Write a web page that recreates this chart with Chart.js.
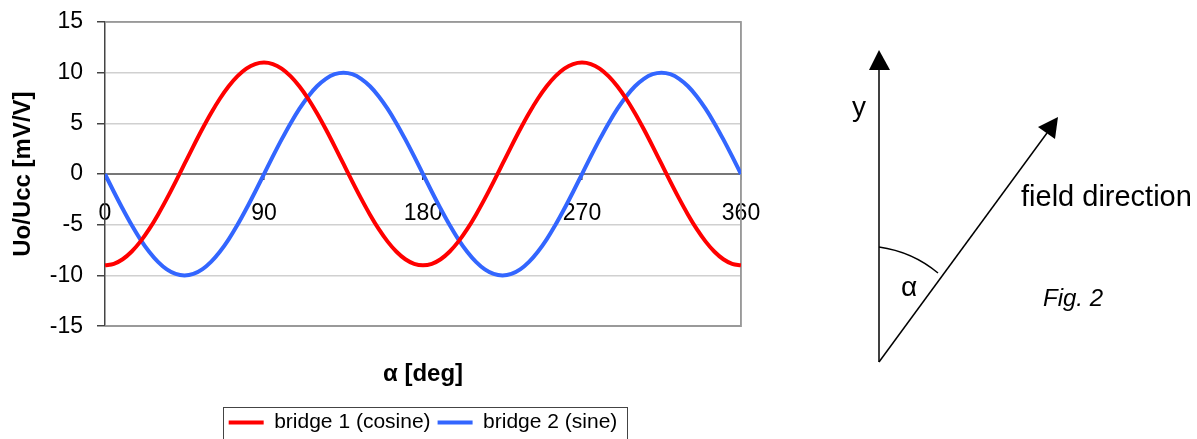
<!DOCTYPE html>
<html>
<head>
<meta charset="utf-8">
<script src="https://cdn.jsdelivr.net/npm/chart.js@4/dist/chart.umd.min.js"></script>
<style>
  html, body { margin: 0; padding: 0; background: #fff; overflow: hidden; width: 1197px; height: 439px; }
  #wrap { position: absolute; left: 0; top: 0; width: 846px; height: 443px; }
  #diagram { position: absolute; left: 0; top: 0; width: 1197px; height: 439px; pointer-events: none; }
  #diagram text { font-family: "Liberation Sans", Arial, sans-serif; fill: #000; }
</style>
</head>
<body>
<div id="wrap"><canvas id="c" width="846" height="443"></canvas></div>
<svg id="diagram" width="1197" height="439" viewBox="0 0 1197 439">
  <line x1="879" y1="362" x2="879" y2="66" stroke="#000" stroke-width="1.5"/>
  <polygon points="879,50 869,70 890,70" fill="#000"/>
  <line x1="879" y1="362" x2="1047" y2="133" stroke="#000" stroke-width="1.5"/>
  <polygon points="1058,117 1038,127 1055,139" fill="#000"/>
  <path d="M879,247 A118,118 0 0 1 938,273" fill="none" stroke="#000" stroke-width="1.5"/>
  <text x="859" y="116" font-size="28" text-anchor="middle">y</text>
  <text x="909" y="296" font-size="28" text-anchor="middle">α</text>
  <text x="1021" y="206" font-size="29">field direction</text>
  <text x="1043" y="306" font-size="24" font-style="italic">Fig. 2</text>
</svg>
<script>
// angle α in degrees
const angles = [0,5,10,15,20,25,30,35,40,45,50,55,60,65,70,75,80,85,90,95,100,105,110,115,120,125,130,135,140,145,150,155,160,165,170,175,180,
  185,190,195,200,205,210,215,220,225,230,235,240,245,250,255,260,265,270,275,280,285,290,295,300,305,310,315,320,325,330,335,340,345,350,355,360];
// bridge 1 (cosine) output, mV/V
const bridge1 = [-9.0,-8.85,-8.4,-7.66,-6.66,-5.43,-4.0,-2.42,-0.74,1.0,2.74,4.42,6.0,7.43,8.66,9.66,10.4,10.85,11.0,10.85,10.4,9.66,8.66,7.43,6.0,4.42,2.74,1.0,-0.74,-2.42,-4.0,-5.43,-6.66,-7.66,-8.4,-8.85,-9.0,
  -8.85,-8.4,-7.66,-6.66,-5.43,-4.0,-2.42,-0.74,1.0,2.74,4.42,6.0,7.43,8.66,9.66,10.4,10.85,11.0,10.85,10.4,9.66,8.66,7.43,6.0,4.42,2.74,1.0,-0.74,-2.42,-4.0,-5.43,-6.66,-7.66,-8.4,-8.85,-9.0];
// bridge 2 (sine) output, mV/V
const bridge2 = [0,-1.74,-3.42,-5.0,-6.43,-7.66,-8.66,-9.4,-9.85,-10.0,-9.85,-9.4,-8.66,-7.66,-6.43,-5.0,-3.42,-1.74,0,1.74,3.42,5.0,6.43,7.66,8.66,9.4,9.85,10.0,9.85,9.4,8.66,7.66,6.43,5.0,3.42,1.74,0,
  -1.74,-3.42,-5.0,-6.43,-7.66,-8.66,-9.4,-9.85,-10.0,-9.85,-9.4,-8.66,-7.66,-6.43,-5.0,-3.42,-1.74,0,1.74,3.42,5.0,6.43,7.66,8.66,9.4,9.85,10.0,9.85,9.4,8.66,7.66,6.43,5.0,3.42,1.74,0];
const seriesNames = ['bridge 1 (cosine)', 'bridge 2 (sine)'];
const seriesColors = ['#ff0000', '#3366ff'];
const xTicks = [0, 90, 180, 270, 360];
const yTicks = [-15, -10, -5, 0, 5, 10, 15];

const FONT = '"Liberation Sans", Arial, sans-serif';

const toPoints = (vals) => angles.map((a, i) => ({x: a, y: vals[i]}));

const frame = {
  id: 'frame',
  beforeDatasetsDraw(chart) {
    const {ctx, chartArea: a} = chart;
    ctx.save();
    ctx.strokeStyle = '#999';
    ctx.lineWidth = 1.5;
    ctx.beginPath();
    ctx.moveTo(a.left, a.top); ctx.lineTo(a.right, a.top);
    ctx.lineTo(a.right, a.bottom); ctx.lineTo(a.left, a.bottom);
    ctx.stroke();
    ctx.restore();
  },
  afterDraw(chart) {
    const lg = chart.legend;
    if (!lg || !lg.legendHitBoxes || !lg.legendHitBoxes.length) return;
    const hb = lg.legendHitBoxes;
    const last = hb[hb.length - 1];
    const l = Math.round(hb[0].left - 6) + 0.5;
    const r = Math.round(last.left + last.width + 10) + 0.5;
    const t = Math.round(lg.top + 2) + 0.5;
    const b = lg.bottom + 10;
    const ctx = chart.ctx;
    ctx.save();
    ctx.strokeStyle = '#444';
    ctx.lineWidth = 1;
    ctx.strokeRect(l, t, r - l, b - t);
    ctx.restore();
  }
};

new Chart(document.getElementById('c'), {
  type: 'line',
  data: {
    datasets: seriesNames.map((n, i) => ({
      label: n,
      data: toPoints(i === 0 ? bridge1 : bridge2),
      borderColor: seriesColors[i],
      backgroundColor: seriesColors[i],
      borderWidth: 4,
      pointRadius: 0,
      fill: false,
      tension: 0,
      cubicInterpolationMode: 'monotone',
      yAxisID: 'y'
    }))
  },
  options: {
    responsive: false,
    animation: false,
    devicePixelRatio: 1,
    layout: { padding: { left: 0, right: 0, top: 22, bottom: 0 } },
    scales: {
      x: {
        type: 'linear',
        min: 0, max: 360,
        position: { y: 0 },
        afterBuildTicks(scale) { scale.ticks = xTicks.map(v => ({value: v})); },
        ticks: { font: { family: FONT, size: 23 }, color: '#000', padding: 21, maxRotation: 0, autoSkip: false },
        grid: { drawOnChartArea: false, drawTicks: true, tickLength: 5, color: '#333', lineWidth: 1.5 },
        border: { color: '#777', width: 2 }
      },
      y: {
        min: -15, max: 15,
        position: 'left',
        afterBuildTicks(scale) { scale.ticks = yTicks.map(v => ({value: v})); },
        afterFit(scale) { scale.width = 105; scale.paddingTop = 0; scale.paddingBottom = 0; },
        ticks: { font: { family: FONT, size: 23 }, color: '#000', padding: 14 },
        grid: {
          color: (c) => (c.tick && (c.tick.value === 0) ? 'rgba(0,0,0,0)' : (Math.abs(c.tick ? c.tick.value : 0) === 15 ? '#999' : '#d0d0d0')),
          lineWidth: 1.5,
          tickLength: 8,
          tickColor: '#444'
        },
        border: { color: '#444', width: 1.5 },
        title: { display: true, text: 'Uo/Ucc [mV/V]', color: '#000', font: { family: FONT, size: 24, weight: 'bold' }, padding: { top: 9, bottom: 0 } }
      },
      yRight: {
        min: -15, max: 15,
        position: 'right',
        afterFit(scale) { scale.width = 105; scale.paddingTop = 0; scale.paddingBottom = 0; },
        ticks: { display: false },
        grid: { display: false, drawOnChartArea: false, drawTicks: false },
        border: { display: true, color: '#999', width: 1.5 }
      }
    },
    plugins: {
      title: {
        display: true, position: 'bottom', weight: 500, text: 'α [deg]', color: '#000',
        font: { family: FONT, size: 24, weight: 'bold' },
        padding: { top: 34, bottom: 16 }
      },
      legend: {
        display: true, position: 'bottom', weight: 3000,
        labels: {
          font: { family: FONT, size: 21 }, color: '#000',
          boxWidth: 35, boxHeight: 4, padding: 7,
          generateLabels(chart) {
            return chart.data.datasets.map((d, i) => ({
              text: d.label, fillStyle: d.borderColor, strokeStyle: d.borderColor,
              lineWidth: 0, hidden: false, datasetIndex: i, fontColor: '#000'
            }));
          }
        }
      },
      tooltip: { enabled: false }
    }
  },
  plugins: [frame]
});
</script>
</body>
</html>
